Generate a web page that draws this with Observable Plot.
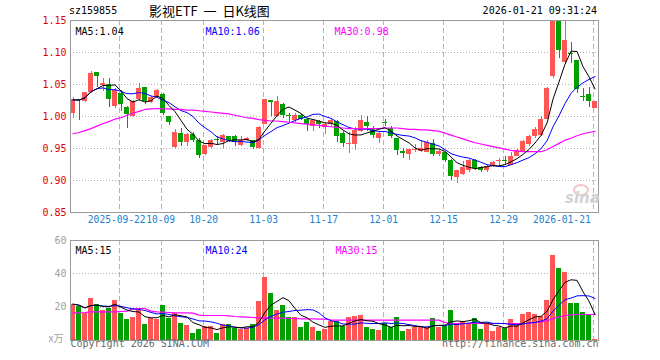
<!DOCTYPE html>
<html><head><meta charset="utf-8">
<script src="https://cdn.jsdelivr.net/npm/d3@7"></script>
<script src="https://cdn.jsdelivr.net/npm/@observablehq/plot@0.6"></script>
<style>
body{margin:0;background:#fff;}
#wrap{position:relative;width:660px;height:360px;overflow:hidden;background:#fff;}
.hd{position:absolute;white-space:nowrap;}
</style></head><body>
<div id="wrap">
  <div id="p1" style="position:absolute;left:0;top:0"></div>
  <div id="p2" style="position:absolute;left:0;top:230px"></div>
  <div class="hd" style="left:69px;top:5px;font:10px 'DejaVu Sans Mono',monospace;line-height:12px;color:#000">sz159855</div>
  <div class="hd" style="left:149px;top:3px;font:13px 'Noto Sans CJK SC',sans-serif;line-height:16px;color:#000;word-spacing:3px">影视ETF 一 日K线图</div>
  <div class="hd" style="right:63px;top:5px;font:10px 'DejaVu Sans Mono',monospace;line-height:12px;color:#000">2026-01-21 09:31:24</div>
  <div class="hd" style="left:573px;top:184px;width:12px;height:8px;border:2px solid #f4c4c4;border-radius:50%"></div>
  <div class="hd" style="left:565px;top:191px;font:italic bold 15px 'DejaVu Sans',sans-serif;line-height:15px;color:#d2d2d2">sina</div>
</div>
<script>
const dateLabels = ["2025-09-22","10-09","10-20","11-03","11-17","12-01","12-15","12-29","2026-01-21"];
const dateIndex  = [8,15,22,32,42,52,62,72,87];
const priceTicks = [1.15,1.10,1.05,1.00,0.95,0.90,0.85];
const volTicks   = [60,40,20];
const priceMaLabels = ["MA5:1.04","MA10:1.06","MA30:0.98"];
const volMaLabels   = ["MA5:15","MA10:24","MA30:15"];

const open  = [1.004,1.026,1.024,1.037,1.068,1.049,1.050,1.015,1.036,1.014,1.000,1.026,1.046,1.022,1.030,1.035,1.000,0.951,0.973,0.960,0.972,0.963,0.940,0.952,0.963,0.959,0.968,0.969,0.954,0.962,0.962,0.950,0.988,1.025,1.000,1.019,1.002,0.993,1.002,0.995,0.985,0.992,0.983,0.987,0.992,0.973,0.956,0.957,0.976,0.990,0.979,0.965,0.991,0.982,0.965,0.945,0.941,0.947,0.946,0.944,0.958,0.940,0.943,0.932,0.905,0.910,0.915,0.932,0.920,0.915,0.922,0.929,0.930,0.924,0.938,0.946,0.957,0.968,0.971,0.996,1.063,1.150,1.084,1.099,1.087,1.032,1.034,1.013];
const high  = [1.030,1.027,1.038,1.071,1.068,1.059,1.060,1.043,1.040,1.016,1.025,1.052,1.046,1.031,1.042,1.036,1.000,0.979,0.981,0.973,0.975,0.965,0.955,0.964,0.969,0.972,0.969,0.971,0.969,0.967,0.963,0.985,1.027,1.025,1.031,1.020,1.004,1.004,1.003,0.996,0.994,0.993,0.990,0.996,0.993,0.976,0.975,0.983,1.002,1.000,0.984,0.975,0.996,0.985,0.966,0.950,0.949,0.957,0.963,0.962,0.964,0.947,0.944,0.933,0.916,0.929,0.933,0.933,0.922,0.923,0.929,0.934,0.938,0.943,0.949,0.962,0.971,0.983,1.000,1.045,1.150,1.150,1.150,1.115,1.088,1.043,1.046,1.024];
const low   = [0.997,0.994,1.022,1.036,1.045,1.039,1.014,1.013,1.008,0.982,0.998,1.024,1.019,1.020,1.028,1.002,0.986,0.950,0.953,0.953,0.959,0.935,0.939,0.950,0.954,0.950,0.959,0.953,0.953,0.961,0.948,0.948,0.987,1.000,0.999,0.997,0.990,0.991,0.993,0.976,0.976,0.981,0.972,0.985,0.960,0.952,0.942,0.947,0.975,0.976,0.965,0.958,0.984,0.966,0.939,0.934,0.931,0.944,0.944,0.943,0.937,0.937,0.928,0.900,0.895,0.908,0.912,0.915,0.912,0.913,0.921,0.922,0.924,0.923,0.937,0.945,0.953,0.966,0.969,0.995,1.060,1.091,1.081,1.083,1.036,1.023,1.014,1.012];
const close = [1.026,1.025,1.037,1.067,1.062,1.051,1.026,1.041,1.019,1.003,1.024,1.044,1.023,1.029,1.040,1.004,0.990,0.975,0.960,0.972,0.963,0.939,0.954,0.963,0.962,0.971,0.962,0.960,0.962,0.965,0.952,0.983,1.026,1.022,1.024,1.002,1.000,1.002,0.995,0.987,0.993,0.987,0.988,0.993,0.969,0.958,0.957,0.978,0.994,0.985,0.970,0.974,0.989,0.968,0.947,0.942,0.948,0.949,0.950,0.960,0.941,0.946,0.931,0.906,0.915,0.920,0.932,0.919,0.915,0.922,0.928,0.930,0.929,0.937,0.947,0.961,0.969,0.979,0.996,1.044,1.148,1.103,1.118,1.097,1.042,1.030,1.023,1.023];
const volume = [21.8,20.6,16.2,25.4,21.8,18.2,19.4,24.2,16.4,12.8,14.0,18.2,9.8,13.4,12.8,21.2,13.4,16.4,10.4,9.2,4.4,6.8,8.6,8.6,4.4,9.8,9.8,7.4,6.8,7.4,9.8,23.2,37.6,28.4,18.2,21.2,14.0,14.0,8.0,11.0,8.0,5.6,6.8,11.6,11.6,8.2,13.6,14.2,15.2,8.0,6.8,6.2,10.4,8.0,14.0,5.6,6.8,8.0,8.0,8.0,13.4,8.0,8.6,18.2,10.4,11.6,10.4,13.4,6.8,9.8,5.6,8.0,7.4,12.8,9.2,15.8,17.0,15.8,14.6,24.2,51.2,43.4,41.0,22.4,22.4,17.0,15.2,0.8];
const ma30Price = [0.973,0.975,0.978,0.981,0.985,0.989,0.992,0.996,0.998,1.002,1.005,1.008,1.011,1.012,1.0125,1.012,1.012,1.011,1.011,1.010,1.010,1.009,1.008,1.007,1.006,1.005,1.004,1.002,1.000,0.998,0.997,0.995,0.994,0.993,0.993,0.992,0.991,0.990,0.989,0.988,0.987,0.986,0.985,0.984,0.983,0.982,0.981,0.981,0.981,0.981,0.981,0.981,0.982,0.982,0.982,0.981,0.980,0.980,0.979,0.979,0.978,0.977,0.974,0.971,0.968,0.965,0.962,0.959,0.957,0.955,0.953,0.951,0.949,0.947,0.946,0.945,0.945,0.945,0.945,0.948,0.953,0.958,0.963,0.966,0.970,0.973,0.975,0.977];
const ma30Vol = [16.6,16.6,16.8,17.2,17.2,17.2,17.2,17.2,17.4,17.6,19.0,19.2,19.2,17.6,17.2,17.0,16.8,16.6,16.6,16.6,16.4,15.2,15.0,15.0,15.0,15.0,14.8,14.4,14.2,14.0,13.8,13.6,13.6,13.4,13.4,13.4,13.2,13.2,13.0,13.0,13.0,12.8,12.8,12.4,12.2,12.2,12.2,12.2,12.2,12.2,12.2,12.2,12.2,12.2,12.2,12.2,12.2,12.2,12.2,12.2,12.2,12.2,10.8,10.2,10.2,10.2,10.2,10.2,10.2,10.2,10.2,10.2,10.2,10.2,10.2,10.2,10.2,10.8,11.2,11.8,13.2,14.2,15.0,15.4,15.6,15.6,15.6,15.6];

const RED = "#ff5555", GREEN = "#00a000", BLUE = "#0000ff", MAG = "#ff00ff";
const rows = d3.range(open.length).map(i => ({i, o: open[i], h: high[i], l: low[i], c: close[i], v: volume[i], m30: ma30Price[i], vm30: ma30Vol[i], up: close[i] >= open[i]}));
const col = d => d.up ? RED : GREEN;
const xc = d => d.i + 0.42;
const grid = "#b4b4b4";
const crisp = {shapeRendering: "crispEdges"};
const font = "'DejaVu Sans Mono', monospace";
const labelShift = [-3, -1, 0, 0, 0, 0, 0, 0];

const dateRules = () => Plot.ruleX(dateIndex, {x: d => d + 0.2, stroke: grid, strokeDasharray: "5,3", ...crisp});

const price = Plot.plot({
  width: 660, height: 230, marginLeft: 70, marginRight: 62, marginTop: 20, marginBottom: 18,
  x: {domain: [0, 88], axis: null},
  y: {domain: [0.85, 1.15], axis: null},
  style: {background: "transparent", fontFamily: font, fontSize: "10px", overflow: "visible"},
  marks: [
    Plot.ruleY(priceTicks.slice(1, -1), {stroke: grid, strokeDasharray: "1,2", ...crisp}),
    dateRules(),
    Plot.ruleX(rows, {x: xc, y1: "l", y2: "h", stroke: col, clip: true, ...crisp}),
    Plot.rect(rows, {x1: "i", x2: d => d.i + 0.84, y1: d => Math.min(d.o, d.c), y2: d => Math.max(d.o, d.c, Math.min(d.o, d.c) + 0.0016), fill: col, clip: true, ...crisp}),
    Plot.lineY(rows, Plot.windowY({k: 10, anchor: "end", reduce: "mean", strict: false}, {x: xc, y: "c", stroke: BLUE, strokeWidth: 1, clip: true})),
    Plot.line(rows, {x: xc, y: "m30", stroke: MAG, strokeWidth: 1.2, clip: true}),
    Plot.lineY(rows, Plot.windowY({k: 5, anchor: "end", reduce: "mean", strict: false}, {x: xc, y: "c", stroke: "#000", strokeWidth: 1, clip: true})),
    Plot.frame({stroke: "#9a9a9a", ...crisp}),
    Plot.text(priceTicks, {x: 0, y: d => d, text: d => d.toFixed(2), textAnchor: "end", dx: -4, fill: "#e00000"}),
    Plot.text(dateLabels.slice(0, -1), {x: (d, i) => dateIndex[i] + 0.2 + labelShift[i] / 6, frameAnchor: "bottom", dy: 10, fill: "#1a7fd0", fontSize: 9.6}),
    Plot.text(dateLabels.slice(-1), {x: () => dateIndex[dateIndex.length - 1] + 0.2, frameAnchor: "bottom", dy: 10, dx: -3, textAnchor: "end", fill: "#1a7fd0", fontSize: 9.6}),
    Plot.text([priceMaLabels[0]], {frameAnchor: "top-left", dx: 5, dy: 7, textAnchor: "start", fill: "#000"}),
    Plot.text([priceMaLabels[1]], {frameAnchor: "top-left", dx: 135, dy: 7, textAnchor: "start", fill: BLUE}),
    Plot.text([priceMaLabels[2]], {frameAnchor: "top-left", dx: 264, dy: 7, textAnchor: "start", fill: MAG})
  ]
});
document.getElementById("p1").appendChild(price);

const vol = Plot.plot({
  width: 660, height: 130, marginLeft: 70, marginRight: 62, marginTop: 10, marginBottom: 20,
  x: {domain: [0, 88], axis: null},
  y: {domain: [0, 60], axis: null},
  style: {background: "transparent", fontFamily: font, fontSize: "10px", overflow: "visible"},
  marks: [
    Plot.ruleY([40, 20], {stroke: grid, strokeDasharray: "1,2", ...crisp}),
    dateRules(),
    Plot.rectY(rows, {x1: "i", x2: d => d.i + 0.84, y: "v", fill: col, ...crisp}),
    Plot.line(rows, {x: xc, y: "vm30", stroke: MAG, strokeWidth: 1.2}),
    Plot.lineY(rows, Plot.windowY({k: 10, anchor: "end", reduce: "mean", strict: false}, {x: xc, y: "v", stroke: BLUE, strokeWidth: 1})),
    Plot.lineY(rows, Plot.windowY({k: 5, anchor: "end", reduce: "mean", strict: false}, {x: xc, y: "v", stroke: "#000", strokeWidth: 1})),
    Plot.frame({stroke: "#9a9a9a", ...crisp}),
    Plot.text(volTicks, {x: 0, y: d => d, text: d => String(d), textAnchor: "end", dx: -4, fill: "#a0a0a0"}),
    Plot.text(["x万"], {frameAnchor: "bottom-left", dx: -7, dy: 1, textAnchor: "end", fill: "#a0a0a0", fontFamily: "'Noto Sans CJK SC', sans-serif", fontSize: 10}),
    Plot.text([volMaLabels[0]], {frameAnchor: "top-left", dx: 5, dy: 6, textAnchor: "start", fill: "#000"}),
    Plot.text([volMaLabels[1]], {frameAnchor: "top-left", dx: 135, dy: 6, textAnchor: "start", fill: BLUE}),
    Plot.text([volMaLabels[2]], {frameAnchor: "top-left", dx: 265, dy: 6, textAnchor: "start", fill: MAG}),
    Plot.text(["Copyright 2026 SINA.COM"], {frameAnchor: "bottom-left", dy: 6, textAnchor: "start", fill: "#6a6a6a"}),
    Plot.text(["http://finance.sina.com.cn"], {frameAnchor: "bottom-right", dy: 6, textAnchor: "end", fill: "#6a6a6a"})
  ]
});
document.getElementById("p2").appendChild(vol);
</script>
</body></html>
